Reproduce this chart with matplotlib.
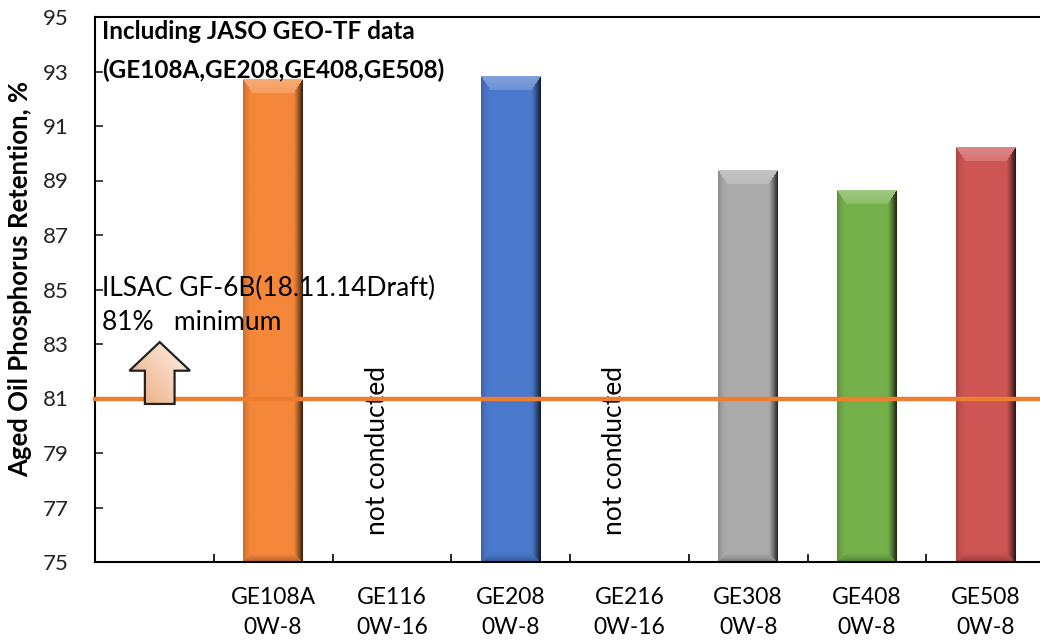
import numpy as np
import matplotlib
matplotlib.use("Agg")
import matplotlib.pyplot as plt
from matplotlib.colors import to_rgb
from matplotlib.patches import Polygon

plt.rcParams["font.family"] = ["Lato", "DejaVu Sans"]

# Datos
engines = ["", "GE108A", "GE116", "GE208", "GE216", "GE308", "GE408", "GE508"]
grades = ["", "0W-8", "0W-16", "0W-8", "0W-16", "0W-8", "0W-8", "0W-8"]
retention = [None, 92.7, None, 92.8, None, 89.35, 88.65, 90.2]
bar_colors = [None, "#F5873A", None, "#4A79CC", None, "#ABABAB", "#74B04A", "#CD5553"]
gf6b_limit = 81.0
y_min, y_max = 75, 95


def bevel_image(color, nx, ny, top=14, side=9, bottom=8):
    """Imagen RGB de una barra con bisel (efecto Excel)."""
    c = np.array(to_rgb(color))
    j = np.arange(nx)[None, :].repeat(ny, 0).astype(float)
    i = np.arange(ny)[:, None].repeat(nx, 1).astype(float)
    st = i / top
    sb = (ny - 1 - i) / bottom
    sl = j / side
    sr = (nx - 1 - j) / side
    stack = np.stack([st, sb, sl, sr])
    face = np.argmin(stack, axis=0)
    m = np.min(stack, axis=0)
    img = np.ones((ny, nx, 3)) * c
    inner = m < 1
    k = np.clip(1 - m, 0, 1)
    # cara superior: mas clara
    sel = inner & (face == 0)
    img[sel] = c + (1 - c) * (0.18 + 0.12 * k[sel])[:, None]
    # cara inferior: mas oscura
    sel = inner & (face == 1)
    img[sel] = c * (1 - 0.25 * k[sel])[:, None]
    # lado izquierdo: ligero sombreado
    sel = inner & (face == 2)
    img[sel] = c * (1 - 0.18 * k[sel] ** 2)[:, None]
    # lado derecho: sombra fuerte
    sel = inner & (face == 3)
    img[sel] = c * (1 - 0.75 * k[sel] ** 1.3)[:, None]
    return np.clip(img, 0, 1)


fig = plt.figure(figsize=(10.4, 6.41), dpi=100)
ax = fig.add_axes([95 / 1040, 79 / 641, 950 / 1040, 545 / 641])

x = np.arange(len(engines))
width = 0.5
px_per_y = 545 / (y_max - y_min)
px_per_x = 950 / len(engines)

for xi, val, col in zip(x, retention, bar_colors):
    if val is None:
        continue
    nx = int(round(width * px_per_x))
    ny = int(round((val - y_min) * px_per_y))
    img = bevel_image(col, nx, ny)
    ax.imshow(img, extent=(xi - width / 2, xi + width / 2, y_min, val),
              aspect="auto", interpolation="bilinear", zorder=2)

# textos de ensayos no realizados
for xi, val in zip(x, retention):
    if val is None and engines[xi]:
        ax.text(xi - 0.125, 79.1, "not conducted", rotation=90,
                ha="center", va="center", fontsize=19, zorder=3)

# limite ILSAC GF-6B
ax.axhline(gf6b_limit, color="#ED7D31", lw=3.2, zorder=4, clip_on=False)

# flecha hacia arriba
arrow_pts = [(-0.08, 80.8), (0.17, 80.8), (0.17, 82.02), (0.30, 82.02),
             (0.045, 83.07), (-0.21, 82.02), (-0.08, 82.02)]
arrow = Polygon(arrow_pts, closed=True, facecolor="none",
                edgecolor="#222222", lw=1.6, zorder=6)
ax.add_patch(arrow)
gx = np.linspace(0, 1, 60)
gy = np.linspace(0, 1, 60)
GX, GY = np.meshgrid(gx, gy)
t = np.clip(0.55 * GX + 0.45 * (1 - GY), 0, 1)
c0 = np.array(to_rgb("#E9A878"))
c1 = np.array(to_rgb("#FFF4EC"))
grad = c0 * (1 - t)[..., None] + c1 * t[..., None]
im = ax.imshow(grad, extent=(-0.21, 0.30, 80.8, 83.07), origin="upper",
               aspect="auto", zorder=5)
im.set_clip_path(Polygon(arrow_pts, closed=True, transform=ax.transData))

ax.text(-0.44, 85.05, "ILSAC GF-6B(18.11.14Draft)", fontsize=19,
        ha="left", va="center", zorder=7)
ax.text(-0.44, 83.8, "81%   minimum", fontsize=19,
        ha="left", va="center", zorder=7)
ax.text(-0.44, 93.75, "Including JASO GEO-TF data\n(GE108A,GE208,GE408,GE508)",
        fontsize=17.5, fontweight="bold", ha="left", va="center",
        linespacing=1.8, zorder=7)

ax.set_xlim(-0.5, len(engines) - 0.5)
ax.set_ylim(y_min, y_max)
ax.set_yticks(np.arange(y_min, y_max + 1, 2))
ax.tick_params(axis="y", direction="in", length=6, width=1.2,
               labelsize=16, pad=19, colors="#222222")
ax.set_xticks(x)
ax.set_xticklabels([f"{e}\n{g}" if e else "" for e, g in zip(engines, grades)],
                   fontsize=16.5, linespacing=1.55)
ax.tick_params(axis="x", length=0, pad=18)
ax.set_xticks(np.arange(0.5, len(engines) - 0.5, 1), minor=True)
ax.tick_params(axis="x", which="minor", direction="in", length=6, width=1.2)
ax.set_ylabel("Aged Oil Phosphorus Retention, %", fontsize=18.5,
              fontweight="bold")
ax.yaxis.set_label_coords(-0.066, 0.52)

for s in ax.spines.values():
    s.set_linewidth(1.5)
    s.set_color("black")

fig.savefig("out.png", dpi=100)
